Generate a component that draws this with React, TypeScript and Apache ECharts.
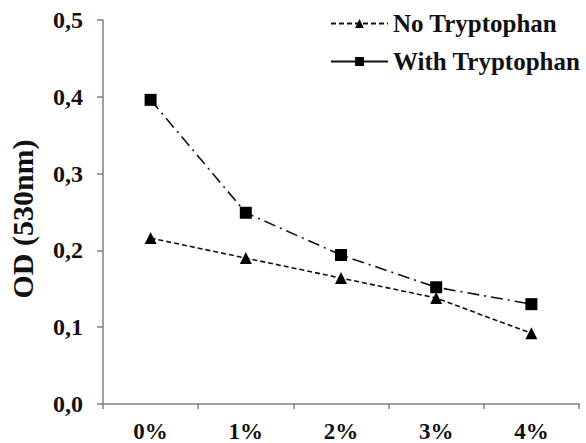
import React, { useEffect, useRef } from "react";
import * as echarts from "echarts";

const categories = ["0%", "1%", "2%", "3%", "4%"];
const noTryptophan = [0.216, 0.19, 0.164, 0.138, 0.092];
const withTryptophan = [0.396, 0.249, 0.194, 0.152, 0.13];
const yTickLabels = ["0,0", "0,1", "0,2", "0,3", "0,4", "0,5"];

const FONT = "'Liberation Serif', 'Times New Roman', serif";

export default function App() {
  const ref = useRef<HTMLDivElement>(null);
  useEffect(() => {
    if (!ref.current) return;
    const chart = echarts.init(ref.current, undefined, { renderer: "svg" });
    chart.setOption({
      animation: false,
      backgroundColor: "#fff",
      grid: { left: 103, top: 20, right: 7, bottom: 39, containLabel: false, outerBoundsMode: "none" },
      legend: {
        orient: "vertical",
        left: 325,
        top: 6,
        itemWidth: 57,
        itemHeight: 11,
        itemGap: 13,
        textStyle: { fontFamily: FONT, fontWeight: "bold", fontSize: 25, color: "#111" },
        data: [
          { name: "No Tryptophan" },
          { name: "With Tryptophan", lineStyle: { type: "solid" } },
        ],
      },
      xAxis: {
        type: "category",
        data: categories,
        boundaryGap: true,
        axisLine: { lineStyle: { color: "#808080", width: 1.5 } },
        axisTick: { show: true, length: 5, alignWithLabel: false, lineStyle: { color: "#808080", width: 1.5 } },
        axisLabel: { fontFamily: FONT, fontWeight: "bold", fontSize: 23, lineHeight: 22, color: "#111", margin: 16 },
      },
      yAxis: {
        type: "value",
        min: 0,
        max: 0.5,
        interval: 0.1,
        name: "OD (530nm)",
        nameLocation: "middle",
        nameGap: 68,
        nameRotate: 90,
        nameTextStyle: { fontFamily: FONT, fontWeight: "bold", fontSize: 30, lineHeight: 26, color: "#111", padding: [0, 0, 0, -14] },
        splitLine: { show: false },
        axisLine: { show: true, lineStyle: { color: "#808080", width: 1.5 } },
        axisTick: { show: true, length: 6, lineStyle: { color: "#808080", width: 1.5 } },
        axisLabel: {
          fontFamily: FONT,
          fontWeight: "bold",
          fontSize: 24,
          color: "#111",
          margin: 20,
          formatter: (v: number) => yTickLabels[Math.round(v * 10)] ?? "",
        },
      },
      series: [
        {
          name: "No Tryptophan",
          type: "line",
          data: noTryptophan,
          symbol: "triangle",
          symbolSize: 12,
          itemStyle: { color: "#000" },
          lineStyle: { color: "#111", width: 1.6, type: [5, 3] },
        },
        {
          name: "With Tryptophan",
          type: "line",
          data: withTryptophan,
          symbol: "rect",
          symbolSize: 12,
          itemStyle: { color: "#000" },
          lineStyle: { color: "#111", width: 1.6, type: [12, 5, 2, 5] },
        },
      ],
    });
    return () => chart.dispose();
  }, []);
  return <div ref={ref} style={{ width: 586, height: 443, position: "absolute", left: 0, top: 0 }} />;
}
